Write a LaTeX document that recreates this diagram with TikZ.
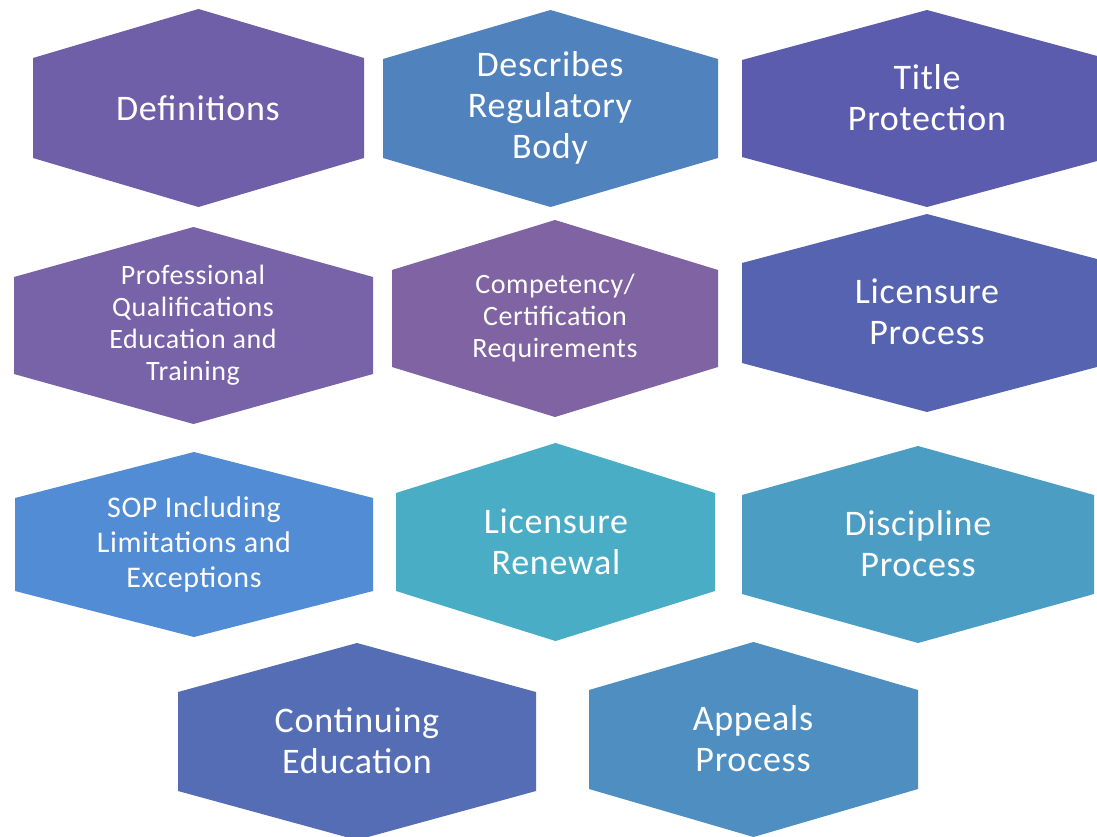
\documentclass[tikz,border=0pt]{standalone}
\usepackage{fontspec}
\setmainfont{Carlito}[LetterSpace=2]

\definecolor{defPurple}{HTML}{6F5EA8}
\definecolor{bodyBlue}{HTML}{5082BE}
\definecolor{titleIndigo}{HTML}{5B5CAE}
\definecolor{profPurple}{HTML}{7862A8}
\definecolor{compPurple}{HTML}{7F63A2}
\definecolor{procIndigo}{HTML}{5563B0}
\definecolor{sopBlue}{HTML}{528CD4}
\definecolor{renewTeal}{HTML}{4AADC6}
\definecolor{discTeal}{HTML}{4C9DC3}
\definecolor{contIndigo}{HTML}{556DB5}
\definecolor{appealBlue}{HTML}{4F8EC0}

\tikzset{
	hexText/.style={text=white, align=center, inner sep=0pt},
	bigText/.style={hexText, font=\fontsize{36}{41}\selectfont},
	midText/.style={hexText, font=\fontsize{30}{35}\selectfont},
	smallText/.style={hexText, font=\fontsize{28}{32}\selectfont}
}

\begin{document}
\begin{tikzpicture}[x=1pt,y=-1pt]
		% left, right, top, bottom, shoulder depth, colour
		\newcommand*{\hexagon}[6]{%
			\fill[#6] (#1,#3+#5) -- ({(#1+#2)/2},#3) -- (#2,#3+#5)
				-- (#2,#4-#5) -- ({(#1+#2)/2},#4) -- (#1,#4-#5) -- cycle;}

		\useasboundingbox (0,0) rectangle (1097,837);
		\clip (0,0) rectangle (1097,837);

		\hexagon{33}{364}{9}{207}{49}{defPurple}
		\hexagon{383}{718}{10}{207}{49}{bodyBlue}
		\hexagon{742}{1112}{10}{207}{50}{titleIndigo}

		\hexagon{14}{373}{227}{424}{50}{profPurple}
		\hexagon{392}{718}{220}{417}{50}{compPurple}
		\hexagon{742}{1112}{214}{412}{49}{procIndigo}

		\hexagon{15}{373}{452}{637}{46}{sopBlue}
		\hexagon{396}{715}{443}{641}{50}{renewTeal}
		\hexagon{742}{1094}{446}{643}{49}{discTeal}

		\hexagon{178}{536}{643}{840}{49}{contIndigo}
		\hexagon{589}{918}{642}{837}{48}{appealBlue}

		\node[bigText] (defs) at (198,108) {Definitions};
		\node[bigText] (body) at (550,108) {Describes\\Regulatory\\Body};
		\node[bigText] (title) at (927,98) {Title\\Protection};

		\node[smallText] (prof) at (193,325) {Professional\\Qualifications\\Education and\\Training};
		\node[smallText] (comp) at (555,318) {Competency/\\Certification\\Requirements};
		\node[bigText] (proc) at (927,312) {Licensure\\Process};

		\node[midText] (sop) at (194,544) {SOP Including\\Limitations and\\Exceptions};
		\node[bigText] (renew) at (556,542) {Licensure\\Renewal};
		\node[bigText] (disc) at (918,544) {Discipline\\Process};

		\node[bigText] (cont) at (357,741) {Continuing\\Education};
		\node[bigText] (appeal) at (753,739) {Appeals\\Process};
\end{tikzpicture}
\end{document}
